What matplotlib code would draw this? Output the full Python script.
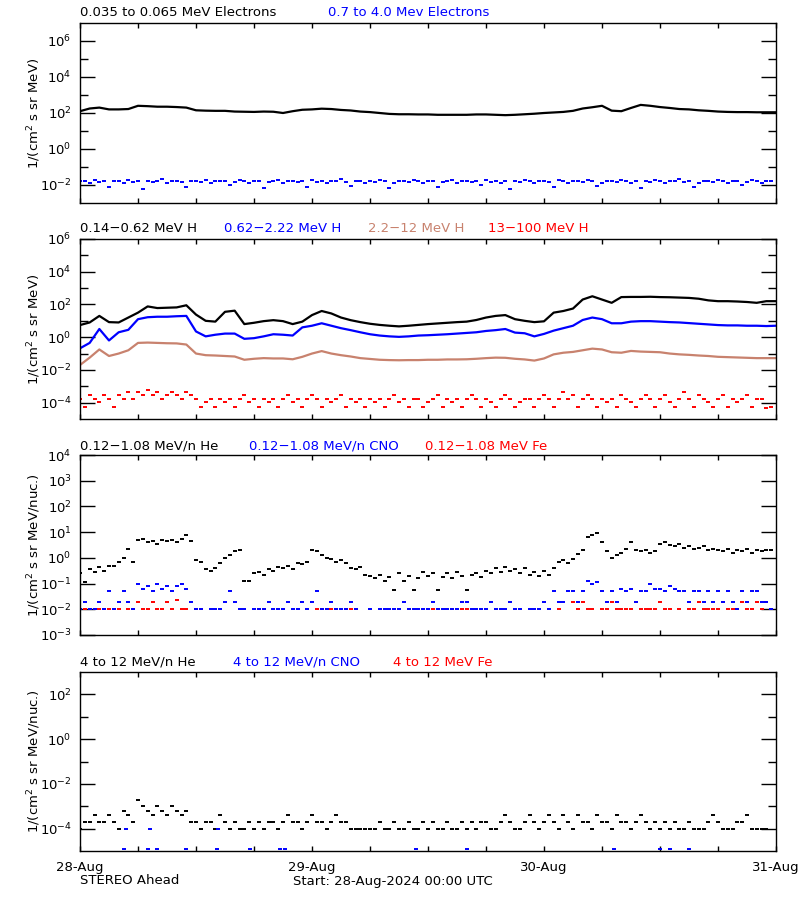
import numpy as np
import matplotlib
matplotlib.use('Agg')
import matplotlib.pyplot as plt
from matplotlib.ticker import FixedLocator, LogFormatterSciNotation, NullLocator, NullFormatter

# hourly time grid (hours since 28-Aug-2024 00:00) and half-hourly grid
hours = np.arange(73)
half_hours = np.arange(144) * 0.5

# ---- panel 1: electrons (log10 flux) ----
e_low = [2.1, 2.25, 2.3, 2.2, 2.2, 2.22, 2.4, 2.38, 2.35, 2.35, 2.33, 2.3,
         2.15, 2.13, 2.12, 2.12, 2.08, 2.07, 2.06, 2.08, 2.07, 2.0, 2.1, 2.18,
         2.2, 2.24, 2.22, 2.17, 2.14, 2.08, 2.05, 2.0, 1.95, 1.93, 1.93, 1.92,
         1.92, 1.9, 1.9, 1.9, 1.9, 1.92, 1.92, 1.9, 1.88, 1.9, 1.93, 1.96,
         2.0, 2.03, 2.06, 2.12, 2.25, 2.32, 2.4, 2.13, 2.1, 2.28, 2.45, 2.4,
         2.33, 2.28, 2.22, 2.2, 2.15, 2.12, 2.08, 2.06, 2.05, 2.05, 2.04, 2.04, 2.04]

e_high = [-1.8, -1.75, -1.9, -1.7, -1.85, -1.8, -2.1, -1.75, -1.8, -1.9, -1.7, -1.85,
          -1.8, -2.2, -1.75, -1.85, -1.8, -1.65, -1.9, -1.8, -1.75, -1.85, -2.1, -1.8,
          -1.75, -1.85, -1.7, -1.9, -1.8, -1.8, -1.75, -2.0, -1.85, -1.7, -1.8, -1.9,
          -1.8, -1.75, -2.15, -1.85, -1.8, -1.7, -1.9, -1.8, -1.75, -1.85, -1.8, -2.1,
          -1.7, -1.85, -1.8, -1.9, -1.75, -1.8, -1.65, -1.85, -2.05, -1.8, -1.75, -1.9,
          -1.8, -1.85, -1.7, -1.8, -2.15, -1.9, -1.75, -1.8, -1.85, -1.7, -1.8, -1.9,
          -1.75, -1.8, -2.1, -1.85, -1.8, -1.7, -1.9, -1.8, -1.75, -1.85, -1.8, -2.0,
          -1.7, -1.85, -1.8, -1.9, -1.75, -2.2, -1.8, -1.85, -1.7, -1.8, -1.9, -1.75,
          -1.8, -1.85, -2.1, -1.7, -1.8, -1.9, -1.75, -1.8, -1.85, -1.7, -1.8, -2.05,
          -1.9, -1.75, -1.8, -1.85, -1.7, -1.8, -1.9, -1.75, -2.15, -1.8, -1.85, -1.7,
          -1.8, -1.9, -1.75, -1.8, -1.65, -1.85, -1.8, -2.1, -1.9, -1.75, -1.8, -1.85,
          -1.7, -1.8, -1.9, -1.75, -1.8, -2.0, -1.85, -1.7, -1.8, -1.9, -1.75, -1.8]

# ---- panel 2: protons ----
h_1 = [0.74, 0.9, 1.3, 0.92, 0.9, 1.2, 1.5, 1.88, 1.78, 1.8, 1.82, 1.95,
       1.38, 1.0, 0.95, 1.55, 1.62, 0.8, 0.88, 0.98, 1.04, 0.98, 0.8, 0.95,
       1.35, 1.6, 1.45, 1.2, 1.04, 0.92, 0.82, 0.75, 0.7, 0.66, 0.7, 0.75,
       0.8, 0.84, 0.88, 0.92, 0.95, 1.05, 1.2, 1.3, 1.35, 1.1, 1.0, 0.92,
       0.97, 1.5, 1.6, 1.75, 2.3, 2.5, 2.3, 2.1, 2.45, 2.46, 2.46, 2.47,
       2.45, 2.44, 2.42, 2.4, 2.35, 2.25, 2.2, 2.2, 2.18, 2.15, 2.1, 2.2, 2.2]

h_2 = [-0.68, -0.35, 0.5, -0.2, 0.3, 0.45, 1.1, 1.22, 1.25, 1.25, 1.28, 1.3,
       0.35, 0.05, 0.15, 0.22, 0.22, -0.1, -0.06, 0.05, 0.18, 0.15, 0.1, 0.6,
       0.7, 0.85, 0.7, 0.55, 0.43, 0.3, 0.18, 0.1, 0.05, 0.02, 0.05, 0.1,
       0.12, 0.15, 0.18, 0.22, 0.26, 0.3, 0.38, 0.43, 0.5, 0.28, 0.24, 0.05,
       0.2, 0.4, 0.55, 0.7, 1.05, 1.2, 1.1, 0.85, 0.85, 0.95, 0.98, 0.98,
       0.95, 0.92, 0.9, 0.86, 0.82, 0.78, 0.74, 0.72, 0.72, 0.7, 0.7, 0.68, 0.7]

h_3 = [-1.7, -1.25, -0.75, -1.15, -1.0, -0.8, -0.35, -0.33, -0.35, -0.37, -0.38, -0.45,
       -1.0, -1.1, -1.12, -1.15, -1.18, -1.38, -1.32, -1.28, -1.3, -1.3, -1.35, -1.2,
       -1.0, -0.85, -1.0, -1.1, -1.18, -1.28, -1.33, -1.38, -1.4, -1.41, -1.4, -1.4,
       -1.38, -1.38, -1.36, -1.36, -1.35, -1.32, -1.28, -1.25, -1.26, -1.32, -1.36, -1.43,
       -1.3, -1.05, -0.95, -0.9, -0.8, -0.7, -0.75, -0.92, -0.95, -0.84, -0.88, -0.9,
       -0.92, -1.0, -1.05, -1.08, -1.12, -1.15, -1.2, -1.22, -1.24, -1.26, -1.28, -1.28, -1.28]

h_4 = [-3.75, -4.25, -3.55, -3.75, -3.95, -3.55, -3.75, -4.25, -3.55, -3.75, -3.35, -3.75,
       -3.35, -3.55, -3.2, -3.55, -3.35, -3.75, -3.55, -3.35, -3.55, -3.75, -3.35, -3.55,
       -3.75, -4.25, -3.95, -3.75, -4.25, -3.75, -3.95, -3.75, -4.25, -3.75, -3.55, -3.95,
       -3.75, -4.25, -3.75, -3.95, -3.75, -4.25, -3.75, -3.55, -3.95, -3.75, -4.25, -3.75,
       -3.55, -3.75, -4.25, -3.75, -3.95, -3.75, -3.55, -4.25, -3.75, -3.95, -3.75, -4.25,
       -3.75, -3.95, -3.75, -4.25, -3.75, -3.55, -3.95, -3.75, -4.25, -3.75, -3.75, -4.25,
       -3.95, -3.75, -3.55, -4.25, -3.75, -3.95, -3.75, -4.25, -3.75, -3.55, -3.75, -4.25,
       -3.75, -3.95, -4.25, -3.75, -3.55, -3.75, -4.25, -3.95, -3.75, -3.75, -4.25, -3.75,
       -3.55, -3.75, -4.25, -3.75, -3.35, -3.75, -3.55, -4.25, -3.75, -3.55, -3.75, -4.25,
       -3.75, -3.95, -3.75, -4.25, -3.55, -3.75, -3.95, -4.25, -3.75, -3.55, -3.75, -4.25,
       -3.75, -3.55, -3.95, -4.25, -3.75, -3.35, -3.75, -4.25, -3.55, -3.75, -3.95, -4.25,
       -3.75, -3.55, -4.25, -3.75, -3.95, -3.75, -3.55, -4.25, -3.75, -3.75, -4.35, -4.25]

# ---- panel 3: 0.12-1.08 MeV/n ions ----
nan = np.nan
he_lo = [-0.6, -0.95, -0.45, -0.55, -0.35, -0.5, -0.3, -0.3, -0.15, 0.0, 0.35, -0.15,
         0.7, 0.75, 0.6, 0.65, 0.55, 0.7, 0.65, 0.7, 0.6, 0.75, 0.9, 0.65,
         -0.1, -0.15, -0.45, -0.5, -0.4, -0.2, 0.0, 0.1, 0.25, 0.3, -0.9, -0.9,
         -0.6, -0.55, -0.65, -0.45, -0.5, -0.35, -0.4, -0.3, -0.45, -0.2, -0.25, -0.15,
         0.3, 0.25, 0.1, 0.0, -0.05, -0.15, -0.1, -0.2, -0.4, -0.45, -0.35, -0.65,
         -0.7, -0.8, -0.65, -0.9, -0.75, -1.26, -0.6, -0.9, -0.7, -1.26, -0.8, -0.55,
         -0.7, -0.6, -1.26, -0.75, -0.6, -0.8, -0.55, -0.7, -1.26, -0.65, -0.6, -0.75,
         -0.5, -0.6, -0.4, -0.55, -0.35, -0.5, -0.45, -0.6, -0.4, -0.65, -0.55, -0.7,
         -0.5, -0.65, -0.4, -0.15, -0.1, -0.2, -0.05, 0.15, 0.3, 0.8, 0.9, 0.95,
         0.6, 0.25, 0.0, 0.1, 0.2, 0.35, 0.6, 0.3, 0.25, 0.3, 0.2, 0.25,
         0.55, 0.6, 0.5, 0.45, 0.55, 0.4, 0.45, 0.35, 0.4, 0.45, 0.3, 0.35,
         0.3, 0.25, 0.35, 0.2, 0.3, 0.25, 0.35, 0.2, 0.3, 0.25, 0.3, 0.3]

cno_lo = [-2.0, -1.7, -2.0, -2.0, -1.7, -2.0, -1.3, -2.0, -1.7, -1.3, -1.7, -2.0,
          -1.0, -1.2, -1.1, -1.3, -1.0, -1.2, -1.1, -1.3, -1.1, -1.0, -1.2, -1.7,
          -2.0, -2.0, nan, -2.0, -2.0, -2.0, -1.7, -1.3, -1.7, -2.0, -2.0, nan,
          -2.0, -2.0, -2.0, -1.7, -2.0, -2.0, -2.0, -1.7, -2.0, -2.0, -1.7, -2.0,
          -1.7, -1.3, -2.0, -2.0, -1.7, -2.0, -2.0, -2.0, -1.7, -2.0, nan, nan,
          -2.0, nan, -2.0, -2.0, -2.0, -2.0, -2.0, -1.7, -2.0, -2.0, -2.0, -2.0,
          -2.0, -1.7, -2.0, -2.0, -2.0, -2.0, -2.0, -1.7, -1.7, -2.0, -2.0, -2.0,
          -2.0, -1.7, -2.0, -2.0, -2.0, -1.7, -2.0, -2.0, nan, -2.0, -2.0, -2.0,
          -1.7, -2.0, -1.3, -1.7, -1.7, -1.3, -1.3, -1.7, -1.3, -0.9, -1.0, -0.95,
          -1.3, -1.7, -1.3, -1.7, -1.2, -1.3, -1.2, -1.7, -1.3, -1.3, -1.0, -1.2,
          -1.2, -1.3, -1.1, -1.2, -1.3, -1.3, -1.7, -1.3, -1.3, -1.7, -1.3, -1.7,
          -1.3, -1.7, -1.3, -1.7, -2.0, -1.3, -1.7, -1.3, -1.3, -1.7, -1.7, -2.0]

fe_lo = [-2.0, -2.0, nan, -2.0, -2.0, -2.0, -2.0, -2.0, -2.0, nan, -2.0, -2.0,
         -1.7, -2.0, -2.0, -1.7, -2.0, -2.0, -1.7, -2.0, -1.65, -2.0, -2.0, nan,
         -2.0, -2.0, nan, nan, nan, nan, nan, nan, nan, nan, nan, nan,
         nan, -2.0, -2.0, nan, nan, nan, nan, nan, nan, nan, nan, nan,
         nan, -2.0, -2.0, -2.0, -2.0, -2.0, nan, -2.0, -2.0, -2.0, nan, nan,
         nan, nan, nan, nan, nan, nan, nan, nan, -2.0, nan, nan, nan,
         nan, -2.0, nan, nan, nan, -2.0, nan, -2.0, -2.0, nan, nan, nan,
         nan, nan, nan, nan, nan, nan, nan, nan, nan, nan, nan, nan,
         nan, nan, nan, -2.0, nan, nan, -1.7, -2.0, -1.7, -2.0, -2.0, nan,
         -2.0, -2.0, -1.7, -2.0, -2.0, -2.0, -2.0, -1.7, -2.0, -2.0, -2.0, -2.0,
         -1.7, -2.0, -2.0, nan, -2.0, nan, -2.0, -2.0, -1.7, -2.0, -2.0, -2.0,
         -2.0, -1.7, -2.0, -2.0, -2.0, -1.7, -2.0, -2.0, -1.7, -2.0, -1.7, -2.0]

# ---- panel 4: 4-12 MeV/n ions ----
he_hi = [-4.0, -3.7, -3.7, -3.4, -3.7, -3.7, -3.4, -3.7, -4.0, -3.2, -3.4, -3.7,
         -2.7, -3.0, -3.2, -3.4, -3.0, -3.2, -3.4, -3.0, -3.2, -3.4, -3.2, -3.7,
         -3.7, -4.0, -3.7, -3.7, -4.0, -3.4, -3.7, -4.0, -3.7, -4.0, -4.0, -3.7,
         -4.0, -3.7, -4.0, -3.7, -3.7, -4.0, -3.7, -3.4, -3.7, -3.7, -4.0, -3.7,
         -3.4, -3.7, -3.7, -4.0, -3.7, -3.4, -3.7, -3.7, -4.0, -4.0, -4.0, -4.0,
         -4.0, -4.0, -3.7, -4.0, -4.0, -3.7, -4.0, -4.0, -3.7, -4.0, -4.0, -3.7,
         -4.0, -3.7, -4.0, -4.0, -3.7, -4.0, -4.0, -3.7, -4.0, -3.7, -4.0, -3.7,
         -3.7, -4.0, -4.0, -3.7, -3.4, -3.7, -4.0, -4.0, -3.7, -3.4, -3.7, -4.0,
         -3.7, -3.4, -3.7, -4.0, -3.4, -3.7, -4.0, -3.4, -3.7, -3.7, -4.0, -3.4,
         -3.7, -3.7, -4.0, -3.4, -3.7, -3.7, -4.0, -3.7, -3.4, -3.7, -4.0, -3.7,
         -4.0, -3.7, -4.0, -3.7, -4.0, -4.0, -3.7, -4.0, -4.0, -4.0, -3.7, -3.4,
         -3.7, -4.0, -4.0, -4.0, -3.7, -3.7, -3.4, -4.0, -4.0, -4.0, -4.0, nan]

cno_hi_hours = [4.5, 4.8, 7.0, 7.2, 8.0, 11.0, 14.2, 14.3, 17.6, 20.7, 21.2,
                34.8, 40.0, 55.2, 60.0, 61.0, 63.0]
cno_hi = [-4.9, -4.0, -4.9, -4.0, -4.9, -4.9, -4.9, -4.0, -4.9, -4.9, -4.9,
          -4.9, -4.9, -4.9, -4.9, -4.9, -4.9]

day_labels = ['28-Aug', '29-Aug', '30-Aug', '31-Aug']

BROWN = '#C8826E'
W, H = 800.0, 900.0

plt.rcParams['font.family'] = 'DejaVu Sans'
plt.rcParams['font.size'] = 9

fig = plt.figure(figsize=(8, 9), dpi=100)


def make_axes(top_px, bottom_px):
    return fig.add_axes([80 / W, 1 - bottom_px / H, 696 / W, (bottom_px - top_px) / H])


def style_axes(ax, ylim, major, minor, ylabel, last=False):
    ax.set_yscale('log')
    ax.set_ylim(ylim)
    ax.set_xlim(0, 72)
    ax.yaxis.set_major_locator(FixedLocator(major))
    ax.yaxis.set_major_formatter(LogFormatterSciNotation())
    if minor:
        ax.yaxis.set_minor_locator(FixedLocator(minor))
    else:
        ax.yaxis.set_minor_locator(NullLocator())
    ax.yaxis.set_minor_formatter(NullFormatter())
    ax.set_xticks(range(0, 73, 6))
    if last:
        ax.set_xticklabels([day_labels[i // 4] if i % 4 == 0 else '' for i in range(13)])
    else:
        ax.set_xticklabels([])
    ax.tick_params(axis='y', which='major', direction='in', length=11, width=1,
                   left=True, right=True, labelsize=9.5, pad=6)
    ax.tick_params(axis='y', which='minor', direction='in', length=5.5, width=1,
                   left=True, right=True)
    ax.tick_params(axis='x', which='major', direction='in', length=3.6, width=1,
                   top=True, bottom=True, labelsize=9.5, pad=7)
    for s in ax.spines.values():
        s.set_linewidth(1)
    ax.set_ylabel(ylabel, fontsize=9.5, va='center')
    ax.yaxis.set_label_coords(-0.066, 0.5)


def dots(ax, x, logv, color):
    # short dashes: neighbouring samples on one level merge like the original
    ax.plot(x, 10 ** np.array(logv, dtype=float), '_', color=color, ms=3.4, mew=1.4)


def line(ax, x, logv, color):
    ax.plot(x, 10 ** np.array(logv, dtype=float), '-', color=color, lw=1.6)


def titles(y_px, items):
    for x_px, s, c in items:
        fig.text(x_px / W, 1 - y_px / H, s, color=c, fontsize=9.5, va='center', ha='left')


flux_label = '1/(cm$^2$ s sr MeV)'
nuc_label = '1/(cm$^2$ s sr MeV/nuc.)'

# panel 1
ax1 = make_axes(23, 203)
dots(ax1, half_hours, e_high, 'blue')
line(ax1, hours, e_low, 'black')
style_axes(ax1, (1e-3, 1e7), [1e-2, 1e0, 1e2, 1e4, 1e6], [1e-1, 1e1, 1e3, 1e5], flux_label)
titles(13, [(80, '0.035 to 0.065 MeV Electrons', 'black'),
            (328, '0.7 to 4.0 Mev Electrons', 'blue')])

# panel 2
ax2 = make_axes(239, 419)
dots(ax2, half_hours, h_4, 'red')
line(ax2, hours, h_3, BROWN)
line(ax2, hours, h_2, 'blue')
line(ax2, hours, h_1, 'black')
style_axes(ax2, (1e-5, 1e6), [1e-4, 1e-2, 1e0, 1e2, 1e4, 1e6],
           [1e-3, 1e-1, 1e1, 1e3, 1e5], flux_label)
titles(229, [(80, '0.14\u22120.62 MeV H', 'black'),
             (224, '0.62\u22122.22 MeV H', 'blue'),
             (368, '2.2\u221212 MeV H', BROWN),
             (488, '13\u2212100 MeV H', 'red')])

# panel 3
ax3 = make_axes(455, 635)
dots(ax3, half_hours, he_lo, 'black')
dots(ax3, half_hours, fe_lo, 'red')
dots(ax3, half_hours, cno_lo, 'blue')
style_axes(ax3, (1e-3, 1e4), [10.0 ** k for k in range(-3, 5)], None, nuc_label)
titles(446, [(80, '0.12\u22121.08 MeV/n He', 'black'),
             (249, '0.12\u22121.08 MeV/n CNO', 'blue'),
             (425, '0.12\u22121.08 MeV Fe', 'red')])

# panel 4
ax4 = make_axes(672, 851)
dots(ax4, half_hours, he_hi, 'black')
dots(ax4, cno_hi_hours, cno_hi, 'blue')
style_axes(ax4, (1e-5, 1e3), [1e-4, 1e-2, 1e0, 1e2], [1e-3, 1e-1, 1e1], nuc_label, last=True)
titles(662, [(80, '4 to 12 MeV/n He', 'black'),
             (233, '4 to 12 MeV/n CNO', 'blue'),
             (393, '4 to 12 MeV Fe', 'red')])

fig.text(80 / W, 1 - 881 / H, 'STEREO Ahead', fontsize=9.5, va='center')
fig.text(293 / W, 1 - 881 / H, 'Start: 28-Aug-2024 00:00 UTC', fontsize=9.5, va='center')

fig.savefig('out.png', dpi=100, facecolor='white')
